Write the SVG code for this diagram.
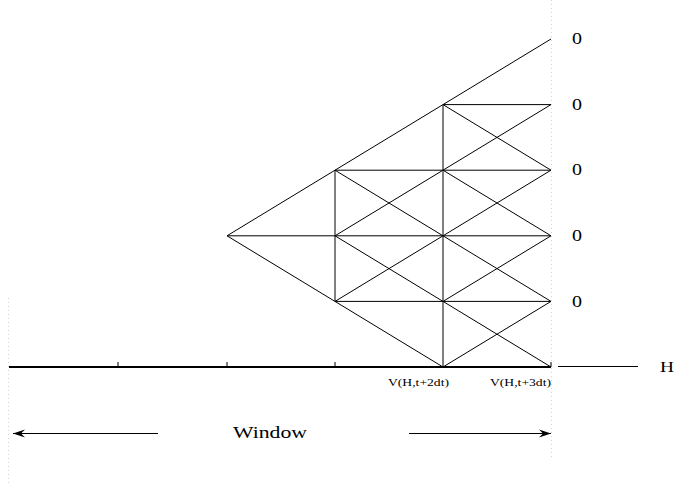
<svg xmlns="http://www.w3.org/2000/svg" width="675" height="483" viewBox="0 0 675 483">
<style>
.ln{stroke:#000;stroke-width:1;fill:none}
.axis{stroke:#000;stroke-width:2;fill:none}
.dot{stroke:#d4d4d4;stroke-width:1;stroke-dasharray:1 3;fill:none}
.t{font-family:"Liberation Serif","Times New Roman",serif;fill:#000}
.z{font-size:17px}
</style>
<defs>
<marker id="ah" viewBox="0 0 12 10" refX="12" refY="5" markerWidth="12" markerHeight="10" markerUnits="userSpaceOnUse" orient="auto">
<path d="M0,1 L12,5 L0,9 L4,5 Z" fill="#000"/>
</marker>
</defs>
<rect width="675" height="483" fill="#fff"/>
<g id="guides">
<line class="dot" x1="551.5" y1="0" x2="551.5" y2="458"/>
<line class="dot" x1="8.5" y1="298" x2="8.5" y2="483"/>
</g>
<g id="connectors">
<line class="ln" x1="227" y1="235.8" x2="551" y2="39"/>
<line class="ln" x1="227" y1="235.8" x2="443" y2="367"/>
<line class="ln" x1="227" y1="235.8" x2="551" y2="235.8"/>
<line class="ln" x1="335" y1="170.2" x2="551" y2="170.2"/>
<line class="ln" x1="335" y1="301.4" x2="551" y2="301.4"/>
<line class="ln" x1="443" y1="104.6" x2="551" y2="104.6"/>
<line class="ln" x1="335" y1="170.2" x2="335" y2="301.4"/>
<line class="ln" x1="443" y1="104.6" x2="443" y2="367"/>
<line class="ln" x1="335" y1="170.2" x2="443" y2="235.8"/>
<line class="ln" x1="335" y1="235.8" x2="443" y2="170.2"/>
<line class="ln" x1="335" y1="235.8" x2="443" y2="301.4"/>
<line class="ln" x1="335" y1="301.4" x2="443" y2="235.8"/>
<line class="ln" x1="443" y1="104.6" x2="551" y2="170.2"/>
<line class="ln" x1="443" y1="170.2" x2="551" y2="104.6"/>
<line class="ln" x1="443" y1="170.2" x2="551" y2="235.8"/>
<line class="ln" x1="443" y1="235.8" x2="551" y2="170.2"/>
<line class="ln" x1="443" y1="235.8" x2="551" y2="301.4"/>
<line class="ln" x1="443" y1="301.4" x2="551" y2="235.8"/>
<line class="ln" x1="443" y1="301.4" x2="551" y2="367"/>
<line class="ln" x1="443" y1="367" x2="551" y2="301.4"/>
</g>
<g id="axis">
<line class="axis" x1="9" y1="367" x2="551" y2="367"/>
<line class="ln" x1="118" y1="362" x2="118" y2="367"/>
<line class="ln" x1="227" y1="362" x2="227" y2="367"/>
<line class="ln" x1="335" y1="362" x2="335" y2="367"/>
<line class="ln" x1="551" y1="362" x2="551" y2="367"/>
<line class="ln" x1="558" y1="366.5" x2="638" y2="366.5"/>
<text class="t" x="660" y="372" font-size="15" textLength="14" lengthAdjust="spacingAndGlyphs">H</text>
<text class="t" x="449" y="386" font-size="11" text-anchor="end" textLength="61" lengthAdjust="spacingAndGlyphs">V(H,t+2dt)</text>
<text class="t" x="551" y="386" font-size="11" text-anchor="end" textLength="61" lengthAdjust="spacingAndGlyphs">V(H,t+3dt)</text>
</g>
<g id="labels">
<text class="t z" x="572" y="44" textLength="10" lengthAdjust="spacingAndGlyphs">0</text>
<text class="t z" x="572" y="110" textLength="10" lengthAdjust="spacingAndGlyphs">0</text>
<text class="t z" x="572" y="175" textLength="10" lengthAdjust="spacingAndGlyphs">0</text>
<text class="t z" x="572" y="241" textLength="10" lengthAdjust="spacingAndGlyphs">0</text>
<text class="t z" x="572" y="307" textLength="10" lengthAdjust="spacingAndGlyphs">0</text>
</g>
<g id="window">
<line class="ln" x1="158" y1="433.5" x2="13" y2="433.5" marker-end="url(#ah)"/>
<line class="ln" x1="409" y1="433.5" x2="551" y2="433.5" marker-end="url(#ah)"/>
<text class="t" x="233" y="438" font-size="17" textLength="74" lengthAdjust="spacingAndGlyphs">Window</text>
</g>
</svg>
